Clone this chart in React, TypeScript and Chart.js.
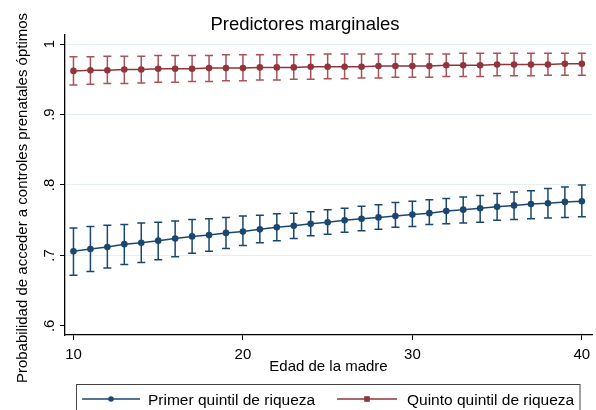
import React, { useEffect, useRef } from "react";
import { Chart, registerables } from "chart.js";

Chart.register(...registerables);

const ages = [10,11,12,13,14,15,16,17,18,19,20,21,22,23,24,25,26,27,28,29,30,31,32,33,34,35,36,37,38,39,40];
const q1Mean = [.706,.709,.712,.716,.718,.721,.724,.727,.729,.732,.734,.737,.740,.742,.745,.747,.750,.752,.754,.756,.758,.760,.763,.765,.767,.769,.771,.773,.774,.776,.777];
const q1Low = [.672,.677,.682,.687,.690,.694,.698,.703,.706,.710,.714,.718,.721,.724,.728,.730,.733,.735,.737,.740,.741,.744,.745,.746,.747,.750,.751,.752,.753,.754,.755];
const q1High = [.739,.741,.743,.744,.746,.747,.749,.751,.752,.754,.756,.757,.759,.760,.762,.765,.767,.770,.772,.775,.777,.779,.781,.783,.785,.788,.790,.792,.795,.797,.800];
const q5Mean = [.962,.963,.963,.964,.964,.965,.965,.965,.966,.966,.966,.967,.967,.967,.968,.968,.968,.968,.969,.969,.969,.969,.970,.970,.970,.971,.971,.971,.971,.972,.972];
const q5Low = [.942,.943,.944,.944,.945,.946,.946,.947,.947,.948,.948,.949,.949,.950,.950,.951,.951,.952,.952,.953,.953,.953,.954,.954,.954,.955,.955,.955,.956,.956,.956];
const q5High = [.982,.982,.983,.983,.983,.984,.984,.984,.984,.985,.985,.985,.985,.985,.985,.986,.986,.986,.986,.986,.986,.986,.986,.987,.987,.987,.987,.987,.987,.987,.987];

const seriesLabels = ["Primer quintil de riqueza", "Quinto quintil de riqueza"];
const xTicks = [10, 20, 30, 40];
const yTicks = [0.6, 0.7, 0.8, 0.9, 1.0];
const yTickLabels = [".6", ".7", ".8", ".9", "1"];
const titleText = "Predictores marginales";
const xTitle = "Edad de la madre";
const yTitle = "Probabilidad de acceder a controles prenatales óptimos";

const BLUE = "#1a476f";
const RED = "#90353b";
const RED_BAR = "#a9525a";
const FONT = "'Liberation Sans', Arial, sans-serif";

export default function App() {
  const ref = useRef<HTMLCanvasElement | null>(null);
  useEffect(() => {
    const canvas = ref.current;
    if (!canvas) return;
    const lows = [q1Low, q5Low];
    const highs = [q1High, q5High];
    const barColors = [BLUE, RED_BAR];

    const errorBars = {
      id: "errorBars",
      beforeDatasetsDraw(chart: any) {
        const ctx = chart.ctx;
        const xs = chart.scales.x;
        const ys = chart.scales.y;
        ctx.save();
        [0, 1].forEach((d) => {
          ctx.strokeStyle = barColors[d];
          ctx.lineWidth = 1.5;
          ages.forEach((a, i) => {
            const px = xs.getPixelForValue(a);
            const y1 = ys.getPixelForValue(lows[d][i]);
            const y2 = ys.getPixelForValue(highs[d][i]);
            ctx.beginPath();
            ctx.moveTo(px, y1);
            ctx.lineTo(px, y2);
            ctx.moveTo(px - 4, y1);
            ctx.lineTo(px + 4, y1);
            ctx.moveTo(px - 4, y2);
            ctx.lineTo(px + 4, y2);
            ctx.stroke();
          });
        });
        ctx.restore();
      },
    };

    const texts = {
      id: "texts",
      afterDraw(chart: any) {
        const ctx = chart.ctx;
        const xs = chart.scales.x;
        const ys = chart.scales.y;
        ctx.save();
        ctx.fillStyle = "#000";
        // title
        ctx.font = `18.5px ${FONT}`;
        ctx.textAlign = "center";
        ctx.textBaseline = "alphabetic";
        ctx.fillText(titleText, 305, 30);
        // x ticks
        ctx.font = `15px ${FONT}`;
        xTicks.forEach((t) => {
          ctx.fillText(String(t), xs.getPixelForValue(t), 359);
        });
        // x title
        ctx.fillText(xTitle, (chart.chartArea.left + chart.chartArea.right) / 2, 371);
        // y ticks rotated
        yTicks.forEach((t, i) => {
          const py = ys.getPixelForValue(t);
          ctx.save();
          ctx.translate(54, py);
          ctx.rotate(-Math.PI / 2);
          ctx.fillText(yTickLabels[i], 0, 0);
          ctx.restore();
        });
        // y title
        ctx.save();
        ctx.translate(26.5, 198);
        ctx.rotate(-Math.PI / 2);
        ctx.fillText(yTitle, 0, 0);
        ctx.restore();

        // legend
        ctx.strokeStyle = "#444";
        ctx.lineWidth = 1;
        ctx.strokeRect(76.5, 384.5, 503.5, 40);
        const items = [
          { x0: 82, x1: 140, tx: 148, color: BLUE, shape: "circle" },
          { x0: 337, x1: 397, tx: 407, color: RED, shape: "square" },
        ];
        items.forEach((it, i) => {
          const ly = 399;
          ctx.strokeStyle = it.color;
          ctx.lineWidth = 1.3;
          ctx.beginPath();
          ctx.moveTo(it.x0, ly);
          ctx.lineTo(it.x1, ly);
          ctx.stroke();
          ctx.fillStyle = it.color;
          const mx = (it.x0 + it.x1) / 2;
          if (it.shape === "circle") {
            ctx.beginPath();
            ctx.arc(mx, ly, 2.8, 0, Math.PI * 2);
            ctx.fill();
          } else {
            ctx.fillRect(mx - 2.8, ly - 2.8, 5.6, 5.6);
          }
          ctx.fillStyle = "#000";
          ctx.textAlign = "left";
          ctx.font = `15.5px ${FONT}`;
          ctx.fillText(seriesLabels[i], it.tx, 405);
        });
        ctx.restore();
      },
    };

    const chart = new Chart(canvas, {
      type: "line",
      data: {
        datasets: [
          {
            label: seriesLabels[0],
            data: ages.map((a, i) => ({ x: a, y: q1Mean[i] })),
            borderColor: BLUE,
            backgroundColor: BLUE,
            borderWidth: 1.5,
            pointRadius: 3.3,
            pointBorderWidth: 0,
            pointBackgroundColor: BLUE,
          },
          {
            label: seriesLabels[1],
            data: ages.map((a, i) => ({ x: a, y: q5Mean[i] })),
            borderColor: RED,
            backgroundColor: RED,
            borderWidth: 1.5,
            pointRadius: 3.3,
            pointBorderWidth: 0,
            pointBackgroundColor: RED,
          },
        ],
      },
      options: {
        animation: false,
        responsive: false,
        maintainAspectRatio: false,
        layout: { padding: { left: 0, right: 4, top: 35, bottom: 0 } },
        plugins: {
          legend: { display: false },
          title: { display: false },
          tooltip: { enabled: false },
        },
        scales: {
          x: {
            type: "linear",
            min: 9.5,
            max: 40.6,
            afterBuildTicks: (s: any) => {
              s.ticks = xTicks.map((v) => ({ value: v }));
            },
            afterFit: (s: any) => {
              s.height = 75;
            },
            ticks: { display: false },
            grid: {
              display: true,
              drawOnChartArea: false,
              drawTicks: true,
              tickLength: 5,
              tickColor: "#000",
              lineWidth: 1,
            },
            border: { display: true, color: "#000", width: 1.3 },
          },
          y: {
            type: "linear",
            min: 0.587,
            max: 1.013,
            afterBuildTicks: (s: any) => {
              s.ticks = yTicks.map((v) => ({ value: v }));
            },
            afterFit: (s: any) => {
              s.width = 65;
            },
            ticks: { display: false },
            grid: {
              display: true,
              drawOnChartArea: true,
              drawTicks: true,
              tickLength: 5,
              tickColor: "#000",
              color: (c: any) => (c.tick && Math.abs(c.tick.value - 0.6) < 1e-6 ? "rgba(0,0,0,0)" : "#e6eef1"),
              lineWidth: 1,
            },
            border: { display: true, color: "#000", width: 1.3 },
          },
        },
      },
      plugins: [errorBars, texts],
    } as any);
    return () => chart.destroy();
  }, []);

  return (
    <div style={{ position: "fixed", left: 0, top: 0, width: 596, height: 410, background: "#fff" }}>
      <canvas ref={ref} width={596} height={410} style={{ width: 596, height: 410, display: "block" }} />
    </div>
  );
}
